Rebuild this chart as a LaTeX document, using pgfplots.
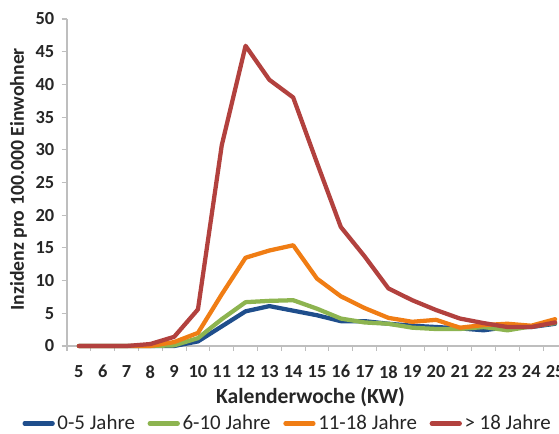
\documentclass[border=0pt]{standalone}
\usepackage{fontspec}
\setmainfont{Carlito}
\usepackage{pgfplots}
\pgfplotsset{compat=1.18}
\definecolor{cblue}{RGB}{31,78,140}
\definecolor{cgreen}{RGB}{141,180,80}
\definecolor{corange}{RGB}{240,125,20}
\definecolor{cred}{RGB}{178,65,62}
\definecolor{axgray}{RGB}{190,190,190}
\pgfplotsset{kw/.style={line width=3.2pt, line join=round, line cap=round}}
\begin{document}
\begin{tikzpicture}
\begin{axis}[
  scale only axis,
  width=375pt, height=245.25pt,
  xmin=4.5, xmax=25.5, ymin=0, ymax=50,
  axis lines=left,
  axis line style={-, axgray, line width=0.8pt},
  xtick={5,...,25},
  major x tick style={draw=none},
  minor xtick={4.5,5.5,...,25.5},
  minor x tick style={axgray, line width=0.8pt},
  ytick={0,5,...,50},
  major y tick style={axgray, line width=0.8pt},
  tick align=outside,
  major tick length=4pt,
  minor tick length=3.5pt,
  /pgf/number format/assume math mode=true,
  tick label style={font=\fontsize{13.8}{16}\selectfont\bfseries, text=black!85},
  yticklabel style={xshift=-2pt},
  xticklabel style={yshift=-7pt},
  xlabel={Kalenderwoche (KW)},
  ylabel={Inzidenz pro 100.000 Einwohner},
  xlabel style={font=\fontsize{16.2}{18}\selectfont\bfseries, text=black!85,
    at={(axis description cs:0.487,-0.157)}, anchor=center},
  ylabel style={font=\fontsize{14.8}{18}\selectfont\bfseries, text=black!85,
    at={(axis description cs:-0.097,0.51)}, anchor=center},
  legend columns=4,
  legend style={draw=none, fill=none, at={(axis description cs:0.442,-0.237)}, anchor=center,
    font=\fontsize{15.7}{18}\selectfont, text=black!85,
    /tikz/every even column/.append style={column sep=7.5pt}},
  legend image code/.code={\draw[#1] (0pt,0pt) -- (21pt,0pt);},
  clip=false,
]
\addplot[kw, cblue] coordinates {
(5,0) (6,0) (7,0) (8,0) (9,0) (10,0.7) (11,3.0) (12,5.3) (13,6.1) (14,5.4) (15,4.7)
(16,3.8) (17,3.8) (18,3.4) (19,3.1) (20,2.9) (21,2.7) (22,2.4) (23,2.9) (24,2.9) (25,3.4)};
\addplot[kw, cgreen] coordinates {
(5,0) (6,0) (7,0) (8,0) (9,0.1) (10,1.2) (11,4.1) (12,6.7) (13,6.9) (14,7.0) (15,5.7)
(16,4.2) (17,3.6) (18,3.4) (19,2.8) (20,2.6) (21,2.6) (22,2.9) (23,2.4) (24,3.0) (25,3.5)};
\addplot[kw, corange] coordinates {
(5,0) (6,0) (7,0) (8,0) (9,0.6) (10,2.0) (11,7.9) (12,13.5) (13,14.6) (14,15.4) (15,10.3)
(16,7.6) (17,5.8) (18,4.3) (19,3.7) (20,4.0) (21,2.8) (22,3.2) (23,3.4) (24,3.1) (25,4.1)};
\addplot[kw, cred] coordinates {
(5,0) (6,0) (7,0) (8,0.3) (9,1.4) (10,5.6) (11,30.7) (12,45.9) (13,40.7) (14,38.0) (15,28.0)
(16,18.2) (17,13.7) (18,8.8) (19,7.0) (20,5.5) (21,4.2) (22,3.5) (23,2.9) (24,2.9) (25,3.6)};
\legend{0-5 Jahre, 6-10 Jahre, 11-18 Jahre, > 18 Jahre}
\end{axis}
\pgfresetboundingbox
\path[use as bounding box] (-50.25pt,-66pt) rectangle (369pt,259.5pt);
\end{tikzpicture}
\end{document}
